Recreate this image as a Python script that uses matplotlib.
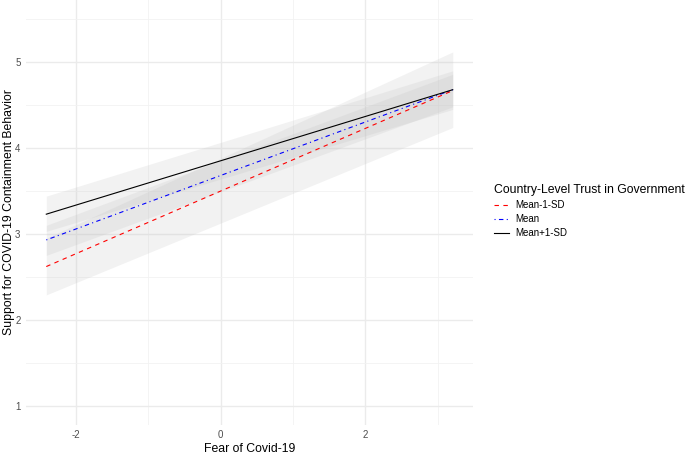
import matplotlib.pyplot as plt
from matplotlib.lines import Line2D

plt.rcParams['font.family'] = ['Liberation Sans', 'DejaVu Sans']
plt.rcParams['axes.unicode_minus'] = False

# predicted support at the ends of the fear range
x_fear = [-2.41, 3.21]
groups = ["Mean-1-SD", "Mean", "Mean+1-SD"]
fit = {
    "Mean-1-SD": [2.62, 4.67],
    "Mean": [2.93, 4.68],
    "Mean+1-SD": [3.23, 4.68],
}
lower = {
    "Mean-1-SD": [2.29, 4.24],
    "Mean": [2.75, 4.48],
    "Mean+1-SD": [3.03, 4.45],
}
upper = {
    "Mean-1-SD": [2.95, 5.12],
    "Mean": [3.10, 4.86],
    "Mean+1-SD": [3.44, 4.90],
}
colors = {"Mean-1-SD": "#FF0000", "Mean": "#0000FF", "Mean+1-SD": "#000000"}
styles = {"Mean-1-SD": (0, (4, 4)), "Mean": (0, (1, 3, 4, 3)), "Mean+1-SD": "-"}

fig = plt.figure(figsize=(6.85, 4.54), dpi=100)
ax = fig.add_axes([0.038, 0.064, 0.6525, 0.936])

for g in groups:
    ax.fill_between(x_fear, lower[g], upper[g], color="#BEBEBE", alpha=0.2, linewidth=0)
for g in groups:
    ax.plot(x_fear, fit[g], color=colors[g], linestyle=styles[g], linewidth=0.8)

ax.set_xlim(-2.69, 3.49)
ax.set_ylim(0.775, 5.725)
ax.set_xticks([-2, 0, 2])
ax.set_xticklabels(["-2", "0", "2"])
ax.set_xticks([-1, 1, 3], minor=True)
ax.set_yticks([1, 2, 3, 4, 5])
ax.set_yticks([1.5, 2.5, 3.5, 4.5, 5.5], minor=True)
ax.grid(which="major", color="#EBEBEB", linewidth=1.0)
ax.grid(which="minor", color="#F2F2F2", linewidth=0.6)
ax.set_axisbelow(True)
for s in ax.spines.values():
    s.set_visible(False)
ax.tick_params(which="both", length=0, labelsize=7, labelcolor="#4D4D4D", pad=4)

ax.set_xlabel("Fear of Covid-19", fontsize=8.8, labelpad=2)
ax.set_ylabel("Support for COVID-19 Containment Behavior", fontsize=8.8)
ax.yaxis.set_label_coords(-0.025, 0.5)

handles = [Line2D([], [], color=colors[g], linestyle=styles[g], linewidth=0.8) for g in groups]
leg = fig.legend(handles, groups, loc="upper left", bbox_to_anchor=(0.708, 0.613),
                 frameon=False, fontsize=7, title="Country-Level Trust in Government",
                 title_fontsize=8.8, handlelength=1.6, handletextpad=0.6,
                 labelspacing=0.4, alignment="left")

fig.savefig("out.png", dpi=100)
